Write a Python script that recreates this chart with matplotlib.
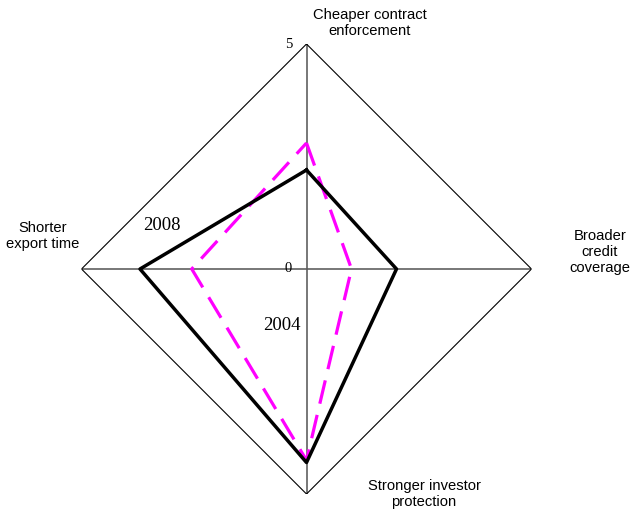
import numpy as np
import matplotlib
matplotlib.use("Agg")
import matplotlib.pyplot as plt

categories = ["Cheaper contract\nenforcement", "Broader\ncredit\ncoverage",
              "Stronger investor\nprotection", "Shorter\nexport time"]
values_2008 = [2.2, 2.0, 4.3, 3.7]
values_2004 = [2.8, 1.0, 4.25, 2.55]
rmax = 5

W, H = 633, 514
fig = plt.figure(figsize=(W / 100, H / 100), dpi=100)
cx, cy, R = 306.5, 269, 225
ax = fig.add_axes([(cx - R) / W, (H - cy - R) / H, 2 * R / W, 2 * R / H], projection="polar")
ax.set_theta_offset(np.pi / 2)
ax.set_theta_direction(-1)
ax.set_ylim(0, rmax)
ax.grid(False)
ax.set_xticks([])
ax.set_yticks([])
ax.spines["polar"].set_visible(False)
ax.patch.set_alpha(0)

n = len(categories)
theta = np.arange(n) * 2 * np.pi / n
closed = np.append(theta, theta[0])

# axis lines
for t in theta:
    ax.plot([t, t], [0, rmax], color="#606060", lw=1.2, zorder=1)
# outer ring
ax.plot(closed, [rmax] * (n + 1), color="black", lw=0.8, zorder=2)

ax.plot(closed, np.append(values_2004, values_2004[0]), color="#FF00FF", lw=2.3,
        dashes=(7.5, 3.6), zorder=3)
ax.plot(closed, np.append(values_2008, values_2008[0]), color="black", lw=2.5, zorder=4)

def ftext(x, y, s, **kw):
    fig.text(x / W, 1 - y / H, s, **kw)

sans = dict(family="Liberation Sans", fontsize=10.6, ha="center", va="center", linespacing=1.15)
ftext(370, 23, categories[0], **sans)
ftext(600, 252, categories[1], **sans)
ftext(424, 494, categories[2], **sans)
ftext(43, 236, categories[3], **sans)

serif = dict(family="Liberation Serif", ha="center", va="center")
ftext(288.5, 44, "5", fontsize=10.5, **serif)
ftext(288.5, 269, "0", fontsize=10.5, **serif)
ftext(162, 226, "2008", fontsize=13.5, **serif)
ftext(282, 325, "2004", fontsize=13.5, **serif)

fig.savefig("out.png", dpi=100)
